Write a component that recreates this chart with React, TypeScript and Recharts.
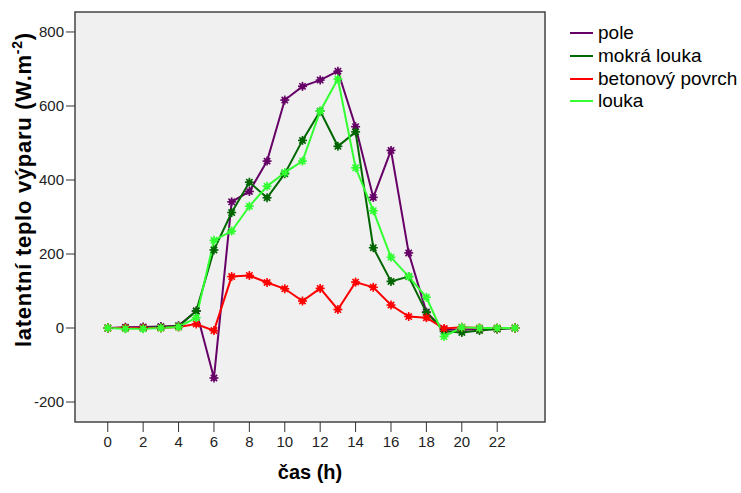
import React from "react";
import {
  LineChart,
  Line,
  XAxis,
  YAxis,
  CartesianGrid,
  ReferenceArea,
} from "recharts";

const hours = [0, 1, 2, 3, 4, 5, 6, 7, 8, 9, 10, 11, 12, 13, 14, 15, 16, 17, 18, 19, 20, 21, 22, 23];
const pole = [0, 2, 3, 4, 6, 46, -135, 341, 369, 451, 616, 653, 670, 694, 544, 353, 480, 203, 43, -4, -5, -3, -2, 0];
const mokraLouka = [0, 0, 0, 2, 5, 46, 211, 312, 394, 352, 417, 507, 586, 491, 530, 217, 126, 139, 42, -9, -12, -7, -3, 0];
const betonovyPovrch = [0, 0, 0, 0, 3, 11, -7, 139, 142, 123, 106, 73, 107, 50, 124, 110, 62, 31, 28, -1, 2, 0, 0, 0];
const louka = [0, -2, -2, 0, 3, 28, 237, 262, 329, 383, 420, 451, 586, 673, 433, 317, 191, 139, 83, -23, 2, 0, 0, 0];

const xTicks = [0, 2, 4, 6, 8, 10, 12, 14, 16, 18, 20, 22];
const yTicks = [-200, 0, 200, 400, 600, 800];

const series = [
  { key: "pole", name: "pole", color: "#660066", values: pole },
  { key: "mokra", name: "mokrá louka", color: "#006600", values: mokraLouka },
  { key: "beton", name: "betonový povrch", color: "#ff0000", values: betonovyPovrch },
  { key: "louka", name: "louka", color: "#33ff33", values: louka },
];

const data = hours.map((h, i) => {
  const row: Record<string, number> = { hour: h };
  series.forEach((s) => {
    row[s.key] = s.values[i];
  });
  return row;
});

const FONT = '"Liberation Sans", Arial, sans-serif';
const X_DOMAIN: [number, number] = [-1.85, 24.7];
const Y_DOMAIN: [number, number] = [-254, 854];

// asterisk marker like the SPSS default
function Asterisk(props: any) {
  const { cx, cy, color } = props;
  if (cx == null || cy == null) return null;
  const r = 4.5;
  const d = r * 0.7071;
  return (
    <g>
      <line x1={cx - r} y1={cy} x2={cx + r} y2={cy} stroke={color} strokeWidth={1.6} />
      <line x1={cx} y1={cy - r} x2={cx} y2={cy + r} stroke={color} strokeWidth={1.6} />
      <line x1={cx - d} y1={cy - d} x2={cx + d} y2={cy + d} stroke={color} strokeWidth={1.6} />
      <line x1={cx - d} y1={cy + d} x2={cx + d} y2={cy - d} stroke={color} strokeWidth={1.6} />
      <circle cx={cx} cy={cy} r={2.2} fill="none" stroke={color} strokeWidth={1.2} />
    </g>
  );
}

function YLabel() {
  return (
    <text
      x={30.5}
      y={190}
      transform="rotate(-90 30.5 190)"
      textAnchor="middle"
      fontFamily={FONT}
      fontSize={22}
      fontWeight="bold"
      fill="#000"
      textLength={314}
      lengthAdjust="spacing"
    >
      latentní teplo výparu (W.m
      <tspan dy={-9} fontSize={14}>-2</tspan>
      <tspan dy={9}>)</tspan>
    </text>
  );
}

function XLabel() {
  return (
    <text x={310} y={479} textAnchor="middle" fontFamily={FONT} fontSize={20} fontWeight="bold" fill="#000">
      čas (h)
    </text>
  );
}

export default function App() {
  return (
    <div style={{ position: "absolute", left: 0, top: 0, width: 741, height: 493, background: "#fff" }}>
      <LineChart
        width={741}
        height={493}
        data={data}
        margin={{ top: 12, right: 196, left: 0, bottom: 31 }}
      >
        <CartesianGrid horizontal={false} vertical={false} fill="#f0f0f0" />
        <ReferenceArea
          x1={X_DOMAIN[0]}
          x2={X_DOMAIN[1]}
          y1={Y_DOMAIN[0]}
          y2={Y_DOMAIN[1]}
          fill="#f0f0f0"
          fillOpacity={1}
          stroke="#444"
          strokeWidth={1.5}
          ifOverflow="visible"
        />
        <XAxis
          dataKey="hour"
          type="number"
          domain={X_DOMAIN}
          ticks={xTicks}
          allowDataOverflow
          axisLine={false}
          tickSize={10}
          tickMargin={4}
          height={40}
          tick={{ fontSize: 15, fill: "#222", fontFamily: FONT }}
          tickLine={{ stroke: "#333" }}
          label={<XLabel />}
        />
        <YAxis
          type="number"
          domain={Y_DOMAIN}
          ticks={yTicks}
          allowDataOverflow
          axisLine={false}
          width={75}
          tickSize={9}
          tickMargin={2}
          tick={{ fontSize: 15, fill: "#222", fontFamily: FONT }}
          tickLine={{ stroke: "#333" }}
          label={<YLabel />}
        />
        {series.map((s) => (
          <Line
            key={s.key}
            dataKey={s.key}
            name={s.name}
            stroke={s.color}
            strokeWidth={2}
            isAnimationActive={false}
            dot={(p: any) => <Asterisk key={`${s.key}-${p.index}`} cx={p.cx} cy={p.cy} color={s.color} />}
            activeDot={false}
          />
        ))}
      </LineChart>
      <div style={{ position: "absolute", left: 570, top: 22, fontFamily: FONT, fontSize: 19, color: "#000" }}>
        {series.map((s) => (
          <div key={s.key} style={{ display: "flex", alignItems: "center", height: 22.7 }}>
            <div style={{ width: 23, height: 2, background: s.color, marginRight: 5 }} />
            <span>{s.name}</span>
          </div>
        ))}
      </div>
    </div>
  );
}
